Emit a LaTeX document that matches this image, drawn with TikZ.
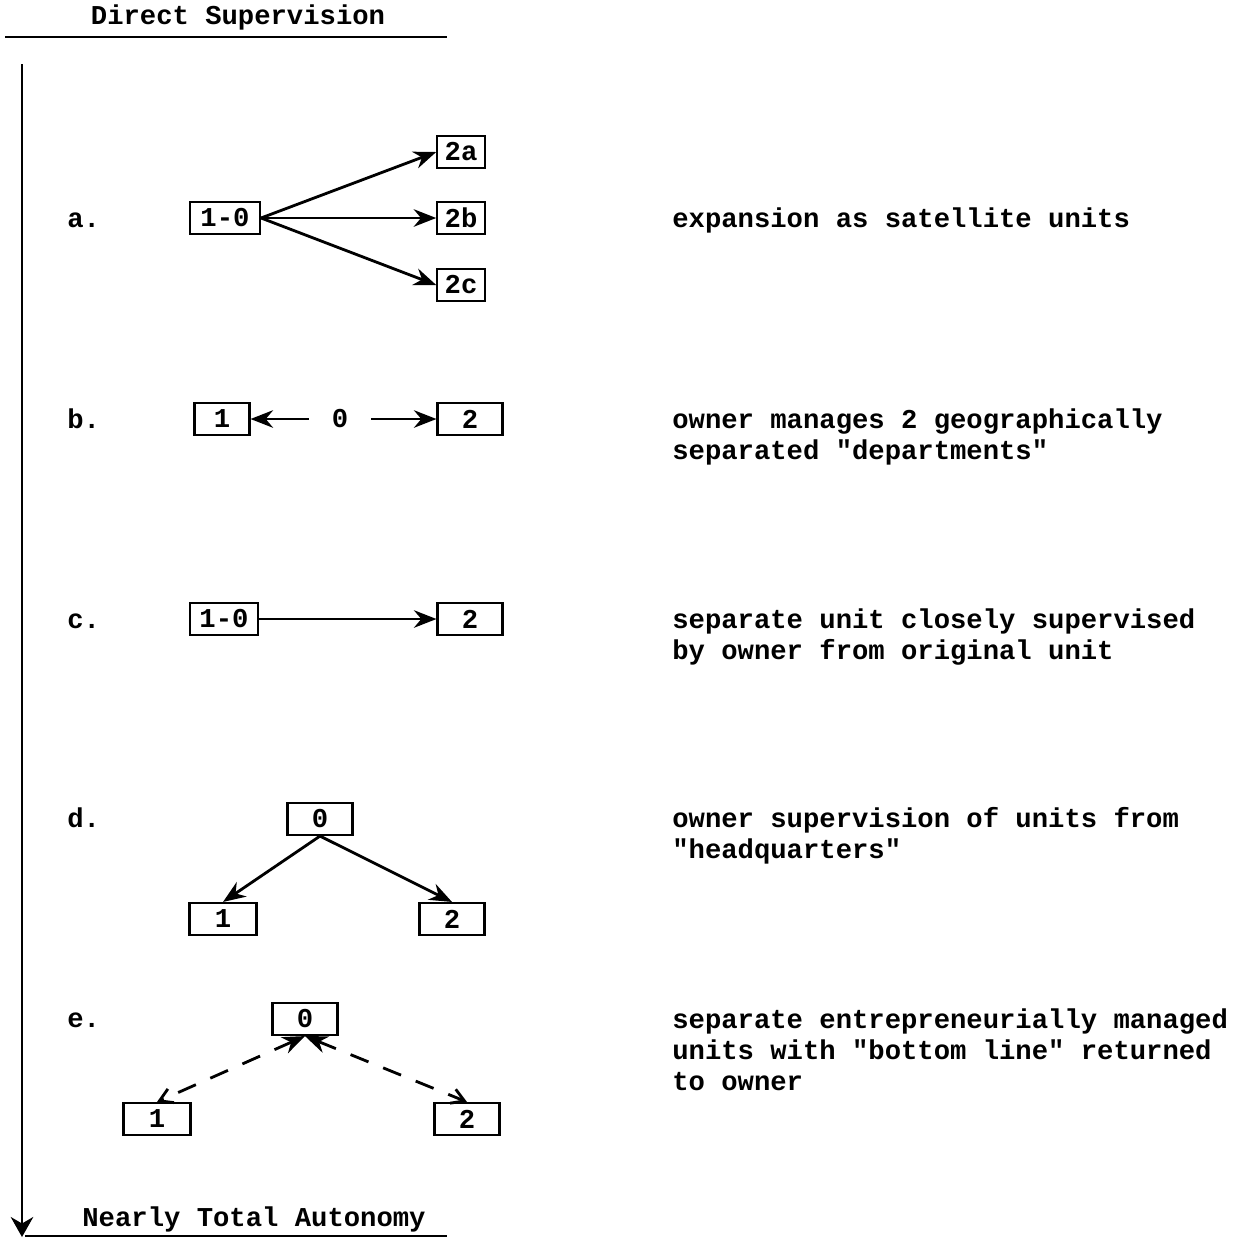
\documentclass[tikz,border=0pt]{standalone}
\usepackage{fontspec}
\setmonofont{Liberation Mono}
\usetikzlibrary{arrows.meta}

\tikzset{
  unit/.style={draw, line width=1.2pt, minimum height=0.64cm, minimum width=1.3cm, inner sep=0pt},
  lbl/.style={anchor=base west, inner sep=0pt},
  note/.style={anchor=base west, align=left, inner sep=0pt},
  tie/.style={line width=1.6pt, -{Stealth[length=4.5mm, width=3.5mm]}},
  loose/.style={line width=1.6pt, dash pattern=on 11pt off 9pt,
    {Stealth[length=4.5mm, width=3.5mm]}-{Straight Barb[length=2.5mm, width=3mm]}},
}

\begin{document}
\begin{tikzpicture}[x=0.02cm, y=-0.02cm, font=\fontsize{15.5}{17.6}\selectfont\ttfamily\bfseries]
\useasboundingbox (0,0) rectangle (1240,1238);

% axis
\node (head) at (238,17) {Direct Supervision};
\node (foot) at (254,1219) {Nearly Total Autonomy};
\coordinate (hl) at (5,37);  \coordinate (hr) at (447,37);
\coordinate (fl) at (25,1236); \coordinate (fr) at (447,1236);
\coordinate (top) at (22,64); \coordinate (bot) at (22,1237);
\draw [line width=1.3pt] (hl) -- (hr);
\draw [line width=1.3pt] (fl) -- (fr);
\draw [line width=1.4pt, -{Stealth[length=4mm, width=4.5mm]}] (top) -- (bot);

% a.
\node [lbl] (la) at (67,227) {a.};
\node [unit, minimum width=1.4cm] (a10) at (225,218) {1-0};
\node [unit, minimum width=0.95cm] (a2a) at (461,152) {2a};
\node [unit, minimum width=0.95cm] (a2b) at (461,218) {2b};
\node [unit, minimum width=0.95cm] (a2c) at (461,285) {2c};
\draw [tie] (a10.east) -- (a2a.west);
\draw [tie] (a10.east) -- (a2b.west);
\draw [tie] (a10.east) -- (a2c.west);
\node [note] (ta) at (672,227) {expansion as satellite units};

% b.
\node [lbl] (lb) at (67,428) {b.};
\node [unit, minimum width=1.1cm] (b1) at (222,419) {1};
\node [inner xsep=0.45cm] (b0) at (340,419) {0};
\node [unit] (b2) at (470,419) {2};
\draw [tie] (b0.west) -- (b1.east);
\draw [tie] (b0.east) -- (b2.west);
\node [note] (tb) at (672,459) {owner manages 2 geographically\\separated "departments"};

% c.
\node [lbl] (lc) at (67,628) {c.};
\node [unit, minimum width=1.36cm] (c10) at (224,619) {1-0};
\node [unit] (c2) at (470,619) {2};
\draw [tie] (c10.east) -- (c2.west);
\node [note] (tc) at (672,659) {separate unit closely supervised\\by owner from original unit};

% d.
\node [lbl] (ld) at (67,827) {d.};
\node [unit] (d0) at (320,819) {0};
\node [unit, minimum width=1.34cm] (d1) at (223,919) {1};
\node [unit] (d2) at (452,919) {2};
\draw [tie] (d0.south) -- (d1.north);
\draw [tie] (d0.south) -- (d2.north);
\node [note] (td) at (672,858) {owner supervision of units from\\"headquarters"};

% e.
\node [lbl] (le) at (67,1027) {e.};
\node [unit] (e0) at (305,1019) {0};
\node [unit, minimum width=1.34cm] (e1) at (157,1119) {1};
\node [unit] (e2) at (467,1119) {2};
\draw [loose] (e0.south) -- (e1.north);
\draw [loose] (e0.south) -- (e2.north);
\node [note] (te) at (672,1090) {separate entrepreneurially managed\\units with "bottom line" returned\\to owner};

\end{tikzpicture}
\end{document}
